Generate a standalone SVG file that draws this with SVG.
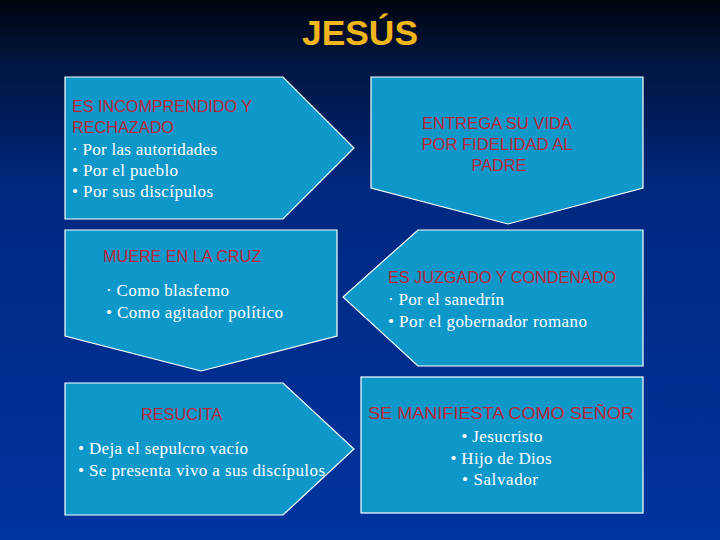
<svg xmlns="http://www.w3.org/2000/svg" width="720" height="540" viewBox="0 0 720 540">
<defs>
<linearGradient id="bg" x1="0" y1="0" x2="0" y2="1">
<stop offset="0" stop-color="#00050f"/>
<stop offset="0.12" stop-color="#001540"/>
<stop offset="0.35" stop-color="#00287f"/>
<stop offset="1" stop-color="#00349f"/>
</linearGradient>
<style>
.box{fill:#0e97c9;stroke:#ffffff;stroke-width:1.2}
.hd{font-family:"Liberation Sans",Arial,sans-serif;font-size:16px;fill:#b8263a}
.bd{font-family:"Liberation Serif","Times New Roman",serif;font-size:17px;fill:#ffffff}
</style>
</defs>
<rect x="0" y="0" width="720" height="540" fill="url(#bg)"/>
<path d="M640,395 Q700,380 720,395 L720,420 Q690,405 645,440 Q690,400 640,395 Z" fill="#00308f" opacity="0.6"/>
<text x="360" y="45" text-anchor="middle" font-family="Liberation Sans,Arial,sans-serif" font-size="35" font-weight="bold" fill="#f2b51c" textLength="116" lengthAdjust="spacingAndGlyphs">JESÚS</text>

<g id="n1">
<polygon class="box" points="65,77 283,77 354,148 283,219 65,219"/>
<text class="hd" x="72" y="112" textLength="180" lengthAdjust="spacingAndGlyphs">ES INCOMPRENDIDO Y</text>
<text class="hd" x="72" y="133" textLength="102" lengthAdjust="spacingAndGlyphs">RECHAZADO</text>
<text class="bd" x="72" y="155" textLength="145">· Por las autoridades</text>
<text class="bd" x="72" y="176" textLength="106">• Por el pueblo</text>
<text class="bd" x="72" y="197" textLength="141">• Por sus discípulos</text>
</g>

<g id="n2">
<polygon class="box" points="371,77 643,77 643,188 508,224 371,188"/>
<text class="hd" x="497" y="129" text-anchor="middle" textLength="150" lengthAdjust="spacingAndGlyphs">ENTREGA SU VIDA</text>
<text class="hd" x="497" y="150" text-anchor="middle" textLength="151" lengthAdjust="spacingAndGlyphs">POR FIDELIDAD AL</text>
<text class="hd" x="499" y="171" text-anchor="middle" textLength="55" lengthAdjust="spacingAndGlyphs">PADRE</text>
</g>

<g id="n3">
<polygon class="box" points="65,230 337,230 337,336 201,371 65,336"/>
<text class="hd" x="103" y="262" textLength="158" lengthAdjust="spacingAndGlyphs">MUERE EN LA CRUZ</text>
<text class="bd" x="106" y="296" textLength="123">· Como blasfemo</text>
<text class="bd" x="106" y="318" textLength="177">• Como agitador político</text>
</g>

<g id="n4">
<polygon class="box" points="418,230 643,230 643,366 418,366 343,297"/>
<text class="hd" x="388" y="283" textLength="228" lengthAdjust="spacingAndGlyphs">ES JUZGADO Y CONDENADO</text>
<text class="bd" x="388" y="305" textLength="116">· Por el sanedrín</text>
<text class="bd" x="388" y="327" textLength="199">• Por el gobernador romano</text>
</g>

<g id="n5">
<polygon class="box" points="65,383 283,383 354,449 283,515 65,515"/>
<text class="hd" x="141" y="420" textLength="81" lengthAdjust="spacingAndGlyphs">RESUCITA</text>
<text class="bd" x="78" y="454" textLength="170">• Deja el sepulcro vacío</text>
<text class="bd" x="78" y="476" textLength="247">• Se presenta vivo a sus discípulos</text>
</g>

<g id="n6">
<rect class="box" x="361" y="377" width="282" height="136"/>
<text class="hd" x="501" y="419" text-anchor="middle" font-size="17" textLength="266" lengthAdjust="spacingAndGlyphs">SE MANIFIESTA COMO SEÑOR</text>
<text class="bd" x="502" y="442" text-anchor="middle" textLength="81">• Jesucristo</text>
<text class="bd" x="501" y="464" text-anchor="middle" textLength="101">• Hijo de Dios</text>
<text class="bd" x="500" y="485" text-anchor="middle" textLength="76">• Salvador</text>
</g>
</svg>
